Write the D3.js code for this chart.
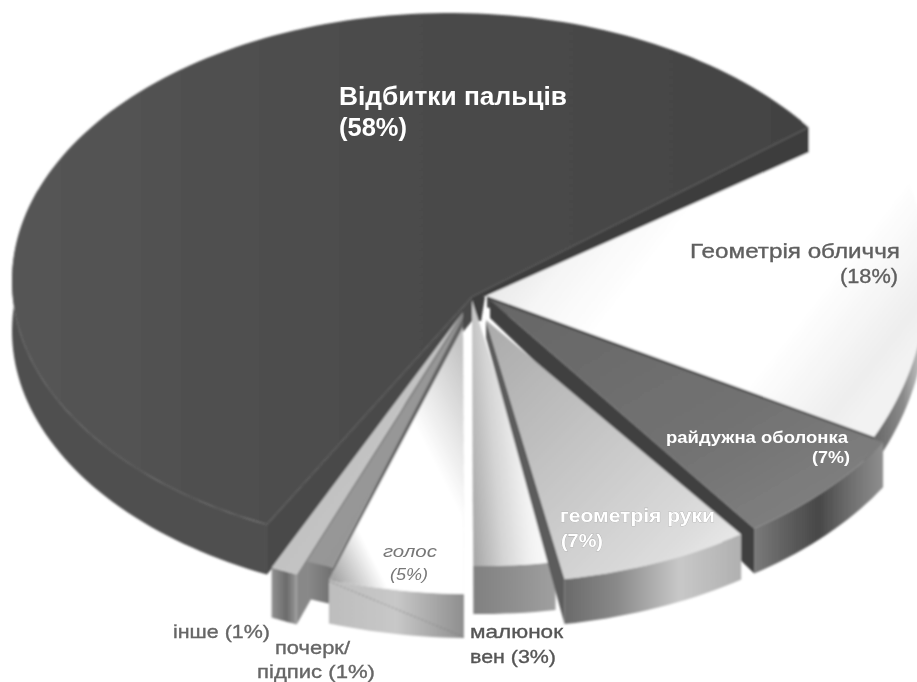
<!DOCTYPE html>
<html><head><meta charset="utf-8">
<script src="https://cdn.jsdelivr.net/npm/d3@7"></script>
<style>html,body{margin:0;padding:0;background:#fff;overflow:hidden}svg{display:block;font-family:"Liberation Sans",Arial,sans-serif}</style>
</head><body><svg id="c" width="917" height="682"></svg>
<script>
// Data: slices clockwise from the fingerprint slice
const pieOrder   = ["finger","face","iris","hand","veins","voice","writing","other"];
const categories = ["Відбитки пальців","Геометрія обличчя","райдужна оболонка","геометрія руки","малюнок вен","голос","почерк/підпис","інше"];
const percents   = [58,18,7,7,3,5,1,1];
const pieValues  = Object.fromEntries(pieOrder.map((k,i)=>[k,percents[i]]));

// 3D projection layout
const W=917,H=682, cx=450, cy=281, rx=438, ry=268, startDeg=206.2;
const explode = {finger:[0,0],face:[77,-4],iris:[53,28],hand:[40,34],veins:[31,17],voice:[21.5,45],writing:[25.5,33],other:[15,46]};
const radiusScale = {face:[400/438,1.2]};
const tipAt   = {finger:[22,16],face:[37,15],iris:[40,19],hand:[36,39],veins:[22,19],voice:[13,46],writing:[13,36],other:[13,31]};
const depth   = {finger:50,face:28,iris:45,hand:45,veins:48,voice:44,writing:37,other:50};
const edgeDepth = {finger:25};              // depth of radial wall at its rim, if different
const tipDepth  = {finger:5};               // depth of radial wall at the tip, if not proportional
const rimTrimDeg= {finger:-1.5};            // widen the start of a slice on the rim
const wallFromDeg  = {face:445};            // outer wall starts where it comes out from under the top
const wallUntilDeg = {finger:290};          // outer wall stops where it disappears behind the top
const hubSize = [13,24];                    // small dark core just under the centre of the pie
const wallEdge= {finger:"end",face:"end",iris:"end",hand:"end",veins:"end",voice:"start",writing:"start",other:"start"};
const paint   = ["face","finger","other","writing","voice","iris","veins","hand"];

const topFill = {
 finger:{v:[0,0,1,0],s:[[0,"#555555"],[.5,"#4b4b4b"],[1,"#434343"]]},
 face:{v:[0,.3,.9,.85],s:[[0,"#d8d8d8"],[.25,"#f6f6f6"],[.4,"#ffffff"],[.75,"#ffffff"],[.95,"#eeeeee"],[1,"#f2f2f2"]]},
 iris:{v:[0,0,1,1],s:[[0,"#666"],[.6,"#737373"],[1,"#858585"]]},
 hand:{v:[0,0,1,1],s:[[0,"#aaa"],[.45,"#c6c6c6"],[.8,"#dcdcdc"],[1,"#f0f0f0"]]},
 veins:{v:[0,.85,.9,.6],s:[[0,"#a8a8a8"],[.35,"#d4d4d4"],[.7,"#f2f2f2"],[1,"#fff"]]},
 voice:{v:[.95,.05,.05,.95],s:[[0,"#c4c4c4"],[.35,"#fff"],[.8,"#fff"],[1,"#a6a6a6"]]},
 writing:{v:[0,0,1,1],s:[[0,"#a0a0a0"],[1,"#8f8f8f"]]},
 other:{v:[0,0,1,1],s:[[0,"#bdbdbd"],[1,"#c8c8c8"]]}
};
const outerFill = {
 finger:[[0,"#505050"],[1,"#4f4f4f"]],
 face:[[0,"#666"],[.55,"#8a8a8a"],[.8,"#b4b4b4"],[1,"#cfcfcf"]],
 iris:[[0,"#7a7a7a"],[.3,"#5a5a5a"],[.5,"#484848"],[.75,"#6f6f6f"],[1,"#8f8f8f"]],
 hand:[[0,"#6a6a6a"],[.3,"#8a8a8a"],[.65,"#c8c8c8"],[1,"#b0b0b0"]],
 veins:[[0,"#808080"],[.5,"#8f8f8f"],[1,"#a0a0a0"]],
 voice:[[0,"#bdbdbd"],[.5,"#c8c8c8"],[1,"#8e8e8e"]],
 writing:[[0,"#8a8a8a"],[1,"#6f6f6f"]],
 other:[[0,"#909090"],[.6,"#6b6b6b"],[1,"#9a9a9a"]]
};
const edgeFill = {finger:"#3e3e3e",face:"#4a4a4a",iris:"#3f3f3f",hand:"#5c5c5c",veins:"#808080",voice:"#666",writing:"#646464",other:"#888"};
const startWallFill = "#484848";

const labels = [
 {t:"Відбитки пальців",x:339,y:105,size:26,w:"bold",fill:"#fff",a:"start",len:228},
 {t:"(58%)",x:339,y:136,size:26,w:"bold",fill:"#fff",a:"start",len:68},
 {t:"Геометрія обличчя",x:690,y:258,size:20,w:"normal",fill:"#5f5f5f",a:"start",len:210,thick:1},
 {t:"(18%)",x:840,y:283,size:20,w:"normal",fill:"#5f5f5f",a:"start",len:58,thick:1},
 {t:"райдужна оболонка",x:666,y:443,size:17,w:"bold",fill:"#fff",a:"start",len:182},
 {t:"(7%)",x:812,y:463,size:17,w:"bold",fill:"#fff",a:"start",len:38},
 {t:"геометрія руки",x:560,y:522,size:19,w:"bold",fill:"#fff",a:"start",len:155,halo:1},
 {t:"(7%)",x:561,y:547,size:19,w:"bold",fill:"#fff",a:"start",len:42,halo:1},
 {t:"голос",x:383,y:557,size:16,w:"normal",fill:"#777",a:"start",i:1,len:54},
 {t:"(5%)",x:390,y:580,size:16,w:"normal",fill:"#777",a:"start",i:1,len:38},
 {t:"малюнок",x:470,y:638,size:19,w:"normal",fill:"#555",a:"start",len:93,thick:1},
 {t:"вен (3%)",x:470,y:663,size:19,w:"normal",fill:"#555",a:"start",len:86,thick:1},
 {t:"інше (1%)",x:173,y:638,size:19,w:"normal",fill:"#666",a:"start",len:97,thick:1},
 {t:"почерк/",x:275,y:654,size:19,w:"normal",fill:"#666",a:"start",len:75,thick:1},
 {t:"підпис (1%)",x:257,y:678,size:19,w:"normal",fill:"#666",a:"start",len:118,thick:1}
];

const svg=d3.select("#c"), defs=svg.append("defs");
defs.append("filter").attr("id","soft").append("feGaussianBlur").attr("stdDeviation",0.8);
defs.append("filter").attr("id","softT").append("feGaussianBlur").attr("stdDeviation",0.5);

const rad=d=>d*Math.PI/180;
const pie=d3.pie().sort(null).value(k=>pieValues[k]).startAngle(rad(startDeg)).endAngle(rad(startDeg+360));
const arcs=new Map(pie(pieOrder).map(a=>{
  return [a.data,{startAngle:a.startAngle+rad(rimTrimDeg[a.data]||0),endAngle:a.endAngle}];
}));
const pt=(k,th,d=0)=>{const s=radiusScale[k]||[1,1];
  return [cx+explode[k][0]+rx*s[0]*Math.sin(th), cy+explode[k][1]-ry*s[1]*Math.cos(th)+d];};
const tip=(k,d=0)=>[cx+tipAt[k][0],cy+tipAt[k][1]+d];
const rim=(k,d=0,from,until)=>{const a=arcs.get(k),
  b=from?Math.max(rad(from),a.startAngle):a.startAngle,
  e=until?Math.min(rad(until),a.endAngle):a.endAngle,
  n=Math.max(8,Math.round((e-b)*40));
  return d3.range(n+1).map(i=>pt(k,b+(e-b)*i/n,d));};
const line=d3.line();

function grad(id,v,stops){
  const g=defs.append("linearGradient").attr("id",id).attr("x1",v[0]).attr("y1",v[1]).attr("x2",v[2]).attr("y2",v[3]);
  stops.forEach(s=>g.append("stop").attr("offset",s[0]).attr("stop-color",s[1]));
}
const marks=svg.append("g").attr("filter","url(#soft)");
paint.forEach(k=>{
  const a=arcs.get(k), D=depth[k], g=marks.append("g").attr("class","slice-"+k);
  grad("top-"+k,topFill[k].v,topFill[k].s);
  grad("out-"+k,[0,0,1,0],outerFill[k]);
  // outer wall
  const r0w=rim(k,0,wallFromDeg[k],wallUntilDeg[k]), r1w=rim(k,D,wallFromDeg[k],wallUntilDeg[k]);
  g.append("path").attr("d",line(r0w.concat(r1w.slice().reverse()))+"Z").attr("fill",`url(#out-${k})`);
  // radial walls
  const th=wallEdge[k]==="end"?a.endAngle:a.startAngle;
  const E=edgeDepth[k]||D, T=tipDepth[k]||D*0.4;
  g.append("path").attr("d",line([tip(k),pt(k,th),pt(k,th,E),tip(k,T)])+"Z").attr("fill",edgeFill[k]);
  if(k==="finger"){ // second cut face down to the deep front corner, and the dark core at the centre
    g.append("path").attr("d",line([tip(k),pt(k,a.startAngle),pt(k,a.startAngle,D),tip(k,hubSize[1])])+"Z").attr("fill",startWallFill);
    const t=tip(k);
    g.append("path").attr("d",line([t,[t[0]+hubSize[0],t[1]],[t[0]+hubSize[0]*.7,t[1]+hubSize[1]],[t[0]+hubSize[0]*.2,t[1]+hubSize[1]]])+"Z").attr("fill",edgeFill[k]);
  }
  // top surface
  g.append("path").attr("d",line([tip(k)].concat(rim(k)))+"Z").attr("fill",`url(#top-${k})`);
  if(k==="voice") // faint dotted crease across the voice wall
    g.append("path").attr("d",line([pt(k,a.endAngle,2),pt(k,a.startAngle,D-1)]))
     .attr("fill","none").attr("stroke","#777").attr("stroke-width",1.2).attr("stroke-dasharray","2 2").attr("opacity",.65);
});

const tg=svg.append("g").attr("filter","url(#softT)");
tg.selectAll("text").data(labels).join("text")
 .attr("x",d=>d.x).attr("y",d=>d.y).attr("font-size",d=>d.size).attr("font-weight",d=>d.w)
 .attr("font-style",d=>d.i?"italic":"normal").attr("fill",d=>d.fill).attr("text-anchor",d=>d.a)
 .attr("textLength",d=>d.len).attr("lengthAdjust","spacingAndGlyphs")
 .attr("stroke",d=>d.halo?"#a8a8a8":d.thick?d.fill:null).attr("stroke-width",d=>d.halo?0.6:d.thick?0.35:null).attr("paint-order","stroke")
 .text(d=>d.t);
</script></body></html>
